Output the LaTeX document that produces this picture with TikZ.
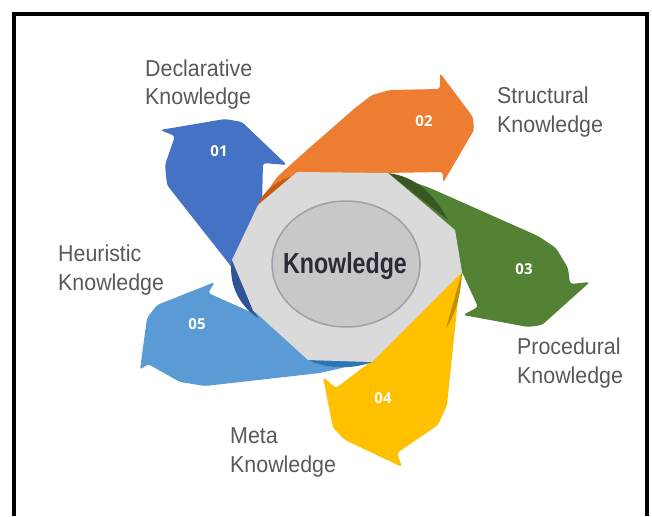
\documentclass[tikz,border=0pt]{standalone}
\usepackage{fontspec}
\setmainfont{Liberation Sans}
\newfontfamily\labelfont{Liberation Sans}[FakeStretch=0.93]
\newfontfamily\centerfont{Liberation Sans}[FakeStretch=0.8]
\newfontfamily\numfont{Open Sans}
\definecolor{cA}{HTML}{4472C4}\definecolor{cAd}{HTML}{2F5597}
\definecolor{cB}{HTML}{ED7D31}\definecolor{cBd}{HTML}{C55A11}
\definecolor{cC}{HTML}{548235}\definecolor{cCd}{HTML}{385723}
\definecolor{cD}{HTML}{FFC000}\definecolor{cDd}{HTML}{BF9000}
\definecolor{cE}{HTML}{5B9BD5}\definecolor{cEd}{HTML}{2E75B6}
\definecolor{octfill}{HTML}{DADADA}
\definecolor{ellfill}{HTML}{C8C8C8}
\definecolor{elldraw}{HTML}{A0A0A0}
\definecolor{labelgray}{HTML}{595959}
\definecolor{centertext}{HTML}{2A2A38}
\tikzset{
  lbl/.style={font=\labelfont\fontsize{23}{28.5}\selectfont, text=labelgray, align=left, inner sep=0pt, anchor=base west},
  num/.style={font=\numfont\bfseries\fontsize{15}{15}\selectfont, text=white, inner sep=0pt},
  arrowband/.style={rounded corners=3pt},
}
\begin{document}
\begin{tikzpicture}[x=1pt,y=-1pt]
\useasboundingbox (0,0) rectangle (652,516);
\fill[white] (0,0) rectangle (652,516);
% frame
\draw[line width=4pt] (14,516) -- (14,14) -- (647,14) -- (647,516);
% arrows
\fill[cE, arrowband] (300,300) -- (253,313) -- (208,293) -- (215,282) -- (157,305) -- (147,318) -- (140,370) -- (148,364) -- (180,382) -- (205,386) -- (320,373) -- (372,361) -- (330,320) -- cycle;
\fill[cD, arrowband] (400,300) -- (462,272) -- (458,300) -- (453,347) -- (447,405) -- (438,425) -- (397,453) -- (402,467) -- (345,440) -- (333,428) -- (323,377) -- (336,388) -- (377,357) -- cycle;
\fill[cC, arrowband] (400,240) -- (388,173) -- (430,188) -- (538,236) -- (556,248) -- (568,268) -- (570,284) -- (590,282) -- (542,325) -- (528,327) -- (463,315) -- (478,307) -- (462,272) -- (430,260) -- cycle;
\fill[cA, arrowband] (300,280) -- (262,205) -- (263,163) -- (287,165) -- (242,122) -- (225,119) -- (160,130) -- (175,136) -- (165,165) -- (167,185) -- (230,265) -- (256,312) -- (300,310) -- cycle;
\fill[cB, arrowband] (310,230) -- (258,205) -- (277,177) -- (307,150) -- (355,108) -- (372,95) -- (390,90) -- (440,89) -- (440,73) -- (473,117) -- (474,130) -- (443,183) -- (443,172) -- (385,173) -- (360,230) -- cycle;
% inner curls
\fill[cBd] (258,205) .. controls (263,190) and (282,175) .. (312,172) -- (297,172) -- cycle;
\fill[cCd] (388,173) .. controls (412,176) and (432,190) .. (448,220) -- cycle;
\fill[cAd] (232,260) .. controls (228,282) and (238,305) .. (258,318) -- (253,310) -- cycle;
\fill[cEd] (308,360) .. controls (330,370) and (355,369) .. (375,361) -- (372,362) -- cycle;
\fill[cDd] (462,272) .. controls (461,292) and (457,312) .. (446,328) -- cycle;
% central octagon and ellipse
\fill[octfill] (297,172) -- (388,173) -- (455,230) -- (462,272) -- (372,362) -- (308,360) -- (253,310) -- (232,260) -- (258,205) -- cycle;
\draw[elldraw, fill=ellfill, line width=1.5pt] (346,264) ellipse [x radius=74, y radius=63];
\node[font=\centerfont\bfseries\fontsize{29}{29}\selectfont, text=centertext, inner sep=0pt, anchor=base] (center) at (345,273) {Knowledge};
% numbers
\node[num] (n1) at (219,151) {01};
\node[num] (n2) at (424,121) {02};
\node[num] (n3) at (524,269) {03};
\node[num] (n4) at (383,398) {04};
\node[num] (n5) at (197,324) {05};
% labels (anchor = baseline of the last line)
\node[lbl] (decl) at (145,105) {Declarative\\Knowledge};
\node[lbl] (struc) at (497,132) {Structural\\Knowledge};
\node[lbl] (proc) at (517,383) {Procedural\\Knowledge};
\node[lbl] (meta) at (230,472) {Meta\\Knowledge};
\node[lbl] (heur) at (58,290) {Heuristic\\Knowledge};
\end{tikzpicture}
\end{document}
